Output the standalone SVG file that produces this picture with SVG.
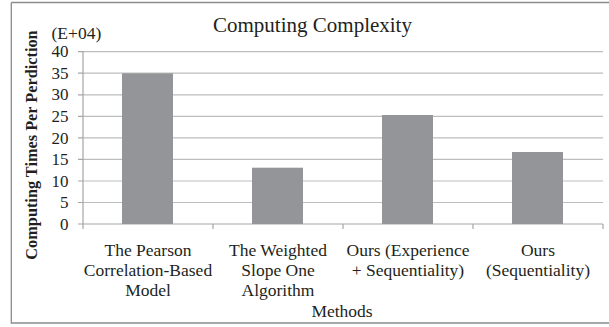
<svg xmlns="http://www.w3.org/2000/svg" width="609" height="327" viewBox="0 0 609 327" font-family="'Liberation Serif', 'Times New Roman', serif">
<style>
text{font-family:'Liberation Serif','Times New Roman',serif;fill:#231f20}
.t{font-family:'Liberation Serif','Times New Roman',serif;font-size:17.5px}
.tick{font-family:'Liberation Serif','Times New Roman',serif;font-size:17px;text-anchor:end}
.cat{font-family:'Liberation Serif','Times New Roman',serif;font-size:17.5px;text-anchor:middle}
.grid{stroke:#bdbdbd;stroke-width:1.2;fill:none}
.ax{stroke:#a6a6a6;stroke-width:1.2;fill:none}
.bar{fill:#939598}
.frame{stroke:#8c8c8c;stroke-width:1.3;fill:none}
</style>
<rect width="609" height="327" fill="#fff"/>
<path class="frame" d="M11.3,2.5 H609 M11.3,2.5 V323 H609"/>
<text x="312.5" y="31.7" font-size="21" text-anchor="middle">Computing Complexity</text>
<text class="t" x="51.5" y="39" font-family="Liberation Serif, serif">(E+04)</text>
<text x="37" y="145" font-size="16.3" font-weight="bold" text-anchor="middle" transform="rotate(-90 37 145)">Computing Times Per Perdiction</text>
<g id="grid">
<path class="grid" d="M83,51.7H603 M83,73.2H603 M83,94.8H603 M83,116.3H603 M83,137.9H603 M83,159.4H603 M83,181H603 M83,202.5H603"/>
</g>
<g id="axes">
<path class="ax" d="M83,51.7V224 M78,51.7H83 M78,73.2H83 M78,94.8H83 M78,116.3H83 M78,137.9H83 M78,159.4H83 M78,181H83 M78,202.5H83 M78,224H83"/>
<path class="ax" d="M83,224H603 M83,224V229 M213,224V229 M343,224V229 M473,224V229 M603,224V229"/>
</g>
<g id="ticks" font-family="Liberation Serif, serif" font-size="17" text-anchor="end">
<text class="tick" x="68.5" y="57.3">40</text>
<text class="tick" x="68.5" y="78.8">35</text>
<text class="tick" x="68.5" y="100.4">30</text>
<text class="tick" x="68.5" y="121.9">25</text>
<text class="tick" x="68.5" y="143.5">20</text>
<text class="tick" x="68.5" y="165">15</text>
<text class="tick" x="68.5" y="186.6">10</text>
<text class="tick" x="68.5" y="208.1">5</text>
<text class="tick" x="68.5" y="229.6">0</text>
</g>
<g id="bar1"><rect class="bar" x="122" y="73.3" width="51" height="150.7"/></g>
<g id="bar2"><rect class="bar" x="252" y="167.7" width="51" height="56.3"/></g>
<g id="bar3"><rect class="bar" x="382" y="115" width="51" height="109"/></g>
<g id="bar4"><rect class="bar" x="512" y="152" width="51" height="72"/></g>
<g id="labels" font-family="Liberation Serif, serif" font-size="17.5" text-anchor="middle">
<text class="cat" x="148" y="256">The Pearson</text>
<text class="cat" x="148" y="276">Correlation-Based</text>
<text class="cat" x="148" y="295.5">Model</text>
<text class="cat" x="278" y="256">The Weighted</text>
<text class="cat" x="278" y="276">Slope One</text>
<text class="cat" x="278" y="295.5">Algorithm</text>
<text class="cat" x="408" y="256">Ours (Experience</text>
<text class="cat" x="408" y="276">+ Sequentiality)</text>
<text class="cat" x="538" y="256">Ours</text>
<text class="cat" x="538" y="276">(Sequentiality)</text>
<text class="cat" x="342" y="317">Methods</text>
</g>
</svg>
